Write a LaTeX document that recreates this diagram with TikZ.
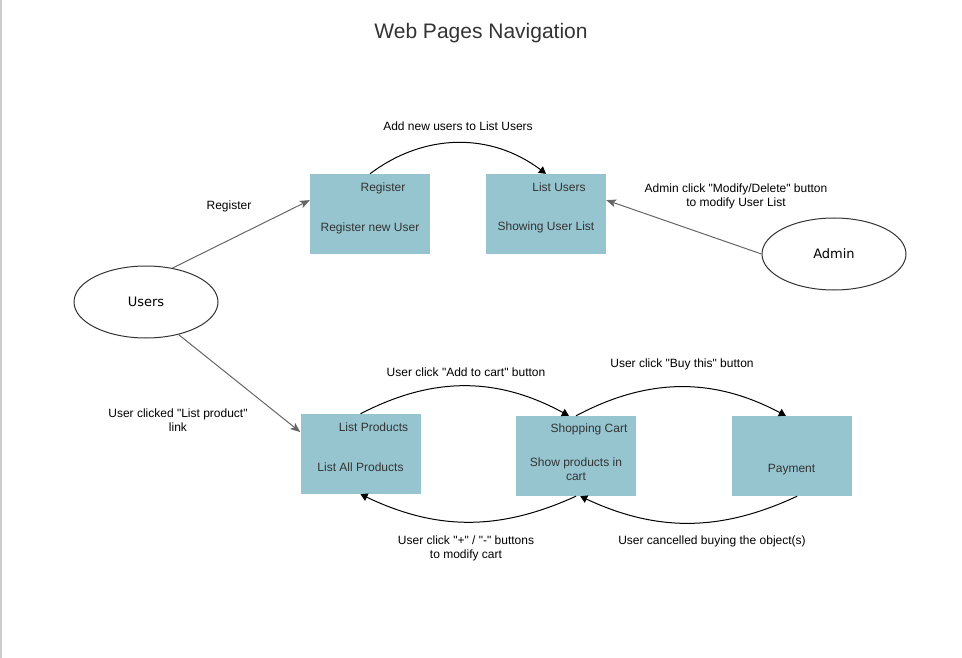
\documentclass[tikz,border=0pt]{standalone}
\usepackage{fontspec}
\setmainfont{Liberation Sans}
\newfontfamily\ellfont{DejaVu Sans}
\usetikzlibrary{arrows.meta,shapes.geometric}

\definecolor{pagefill}{HTML}{96C5D0}
\definecolor{txtgray}{HTML}{333333}
\definecolor{linegray}{HTML}{666666}
\definecolor{edgegray}{HTML}{CCCCCC}

\newcommand{\qt}{\textquotedbl}

\tikzset{
  page/.style={rectangle, fill=pagefill, minimum width=120pt, minimum height=80pt, inner sep=0pt},
  pagetext/.style={text=txtgray, font=\fontsize{12}{14}\selectfont, inner sep=0pt, align=center},
  actor/.style={ellipse, draw=black!80, line width=1pt, minimum width=144pt, minimum height=72pt,
    inner sep=0pt, font=\ellfont\fontsize{13}{15}\selectfont},
  lbl/.style={font=\fontsize{12}{14}\selectfont, inner sep=0pt, align=center},
  link/.style={draw=linegray, line width=1pt, -{Stealth[length=10pt,width=8pt,inset=2.5pt]}},
  flow/.style={draw=black, line width=1pt, -{Triangle[length=7pt,width=8pt]}},
}

\begin{document}
\begin{tikzpicture}[x=1pt, y=-1pt]
  \useasboundingbox (0,0) rectangle (962,658);
  \fill[edgegray] (0,0) rectangle (2,658);

  \node[font=\fontsize{21}{25}\selectfont, text=txtgray] (title) at (481,33) {Web Pages Navigation};

  % pages
  \node[page] (reg) at (370,214) {};
  \node[page] (lu) at (546,214) {};
  \node[page] (lp) at (360.5,454) {};
  \node[page] (sc) at (576,456) {};
  \node[page] (pay) at (791.5,456) {};

  \node[pagetext] (regtitle) at ([xshift=13pt,yshift=-14.5pt]reg.north) {Register};
  \node[pagetext] (regdesc) at ([yshift=-14.5pt]reg.center) {Register new User};
  \node[pagetext] (lutitle) at ([xshift=13pt,yshift=-13pt]lu.north) {List Users};
  \node[pagetext] (ludesc) at ([yshift=-13pt]lu.center) {Showing User List};
  \node[pagetext] (lptitle) at ([xshift=13pt,yshift=-13pt]lp.north) {List Products};
  \node[pagetext] (lpdesc) at ([yshift=-13pt]lp.center) {List All Products};
  \node[pagetext] (sctitle) at ([xshift=13pt,yshift=-14pt]sc.north) {Shopping Cart};
  \node[pagetext] (scdesc) at ([yshift=-13pt]sc.center) {Show products in\\cart};
  \node[pagetext] (paydesc) at ([yshift=-14pt]pay.center) {Payment};

  % actors
  \node[actor] (users) at (146,302) {Users};
  \node[actor] (admin) at (834,254) {Admin};

  \draw[link] (users.52) -- (reg.167);
  \draw[link] (users.-45) -- (lp.160);
  \draw[link] (admin.west) -- (lu.13);

  \draw[flow] (reg.north) to[bend left=37] (lu.north);
  \draw[flow] (lp.north) to[bend left=28] (sc.100);
  \draw[flow] (sc.north) to[bend left=28] (pay.98);
  \draw[flow] (sc.south) to[bend left=25] (lp.south);
  \draw[flow] (pay.-82) to[bend left=25] (sc.-84);

  % labels
  \node[lbl] (lblreg) at (229,206) {Register};
  \node[lbl] (lbllist) at (178,420) {User clicked \qt List product\qt\\link};
  \node[lbl] (lbladmin) at (736,196) {Admin click \qt Modify/Delete\qt\ button\\to modify User List};
  \node[lbl] (lbladd) at (458,126) {Add new users to List Users};
  \node[lbl] (lblcart) at (466,372) {User click \qt Add to cart\qt\ button};
  \node[lbl] (lblbuy) at (682,364) {User click \qt Buy this\qt\ button};
  \node[lbl] (lblmod) at (466,548) {User click \qt+\qt\ / \qt-\qt\ buttons\\to modify cart};
  \node[lbl] (lblcancel) at (712,541) {User cancelled buying the object(s)};
\end{tikzpicture}
\end{document}
